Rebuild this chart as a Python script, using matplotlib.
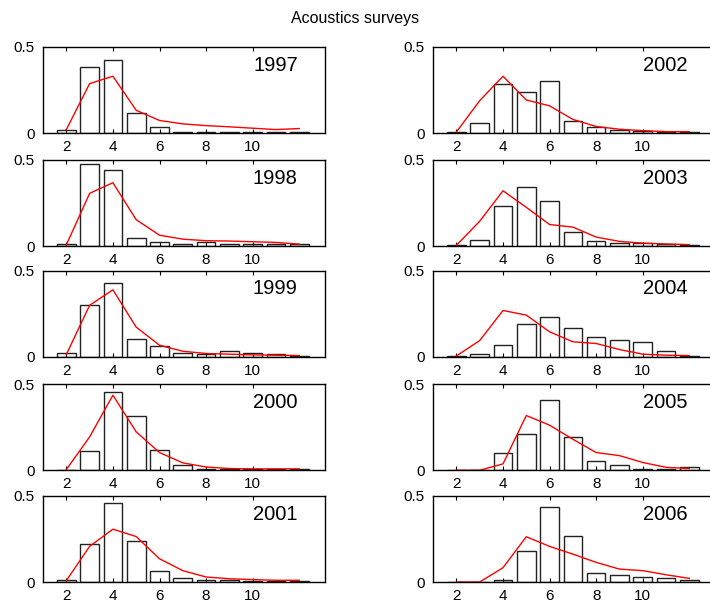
import numpy as np
import matplotlib
matplotlib.use("Agg")
import matplotlib.pyplot as plt

plt.rcParams['font.family'] = ['Liberation Sans', 'DejaVu Sans']

# --- Data ---
ages = [2, 3, 4, 5, 6, 7, 8, 9, 10, 11, 12]
years_left = ["1997", "1998", "1999", "2000", "2001"]
years_right = ["2002", "2003", "2004", "2005", "2006"]

bars_1997 = [0.018, 0.385, 0.423, 0.119, 0.036, 0.008, 0.008, 0.008, 0.008, 0.008, 0.008]
line_1997 = [0.020, 0.287, 0.330, 0.132, 0.073, 0.053, 0.043, 0.036, 0.028, 0.020, 0.026]
bars_1998 = [0.010, 0.475, 0.440, 0.048, 0.021, 0.011, 0.021, 0.011, 0.011, 0.011, 0.010]
line_1998 = [0.006, 0.306, 0.368, 0.153, 0.063, 0.040, 0.031, 0.029, 0.025, 0.021, 0.011]
bars_1999 = [0.023, 0.300, 0.432, 0.105, 0.062, 0.023, 0.018, 0.033, 0.023, 0.018, 0.008]
line_1999 = [0.014, 0.300, 0.390, 0.173, 0.068, 0.033, 0.020, 0.016, 0.012, 0.010, 0.008]
bars_2000 = [0.004, 0.110, 0.455, 0.318, 0.120, 0.029, 0.010, 0.008, 0.008, 0.008, 0.008]
line_2000 = [0.004, 0.194, 0.436, 0.223, 0.103, 0.043, 0.019, 0.010, 0.008, 0.008, 0.008]
bars_2001 = [0.010, 0.218, 0.461, 0.237, 0.064, 0.021, 0.010, 0.010, 0.008, 0.006, 0.008]
line_2001 = [0.008, 0.207, 0.307, 0.264, 0.135, 0.066, 0.029, 0.019, 0.014, 0.010, 0.010]

bars_2002 = [0.008, 0.061, 0.283, 0.237, 0.302, 0.071, 0.034, 0.020, 0.010, 0.006, 0.006]
line_2002 = [0.006, 0.188, 0.330, 0.192, 0.158, 0.079, 0.038, 0.022, 0.014, 0.008, 0.008]
bars_2003 = [0.008, 0.037, 0.233, 0.342, 0.260, 0.083, 0.027, 0.019, 0.017, 0.010, 0.008]
line_2003 = [0.004, 0.144, 0.321, 0.225, 0.125, 0.110, 0.052, 0.027, 0.017, 0.012, 0.008]
bars_2004 = [0.008, 0.018, 0.072, 0.189, 0.233, 0.169, 0.117, 0.097, 0.088, 0.035, 0.008]
line_2004 = [0.006, 0.095, 0.270, 0.243, 0.146, 0.088, 0.078, 0.043, 0.016, 0.010, 0.008]
bars_2005 = [0.000, 0.000, 0.100, 0.209, 0.411, 0.192, 0.054, 0.029, 0.010, 0.010, 0.021]
line_2005 = [0.000, 0.000, 0.037, 0.318, 0.262, 0.180, 0.103, 0.085, 0.045, 0.017, 0.010]
bars_2006 = [0.000, 0.000, 0.010, 0.181, 0.434, 0.270, 0.054, 0.039, 0.027, 0.021, 0.010]
line_2006 = [0.000, 0.000, 0.083, 0.263, 0.207, 0.162, 0.114, 0.075, 0.066, 0.042, 0.021]

bars_left = [bars_1997, bars_1998, bars_1999, bars_2000, bars_2001]
lines_left = [line_1997, line_1998, line_1999, line_2000, line_2001]
bars_right = [bars_2002, bars_2003, bars_2004, bars_2005, bars_2006]
lines_right = [line_2002, line_2003, line_2004, line_2005, line_2006]

fig = plt.figure(figsize=(7.10, 6.06), dpi=100)

row_bottoms = [0.7805, 0.594, 0.411, 0.224, 0.0396]
col_lefts = [0.0606, 0.610]
ax_w, ax_h = 0.397, 0.142


def draw_panel(ax, bars, line, year):
    ax.bar(ages, bars, width=0.8, facecolor='white', edgecolor='#222222', linewidth=1.0)
    ax.plot(ages, line, color='red', linewidth=1.0)
    ax.set_xlim(1, 13.1)
    ax.set_ylim(0, 0.5)
    ax.set_xticks([2, 4, 6, 8, 10])
    ax.set_yticks([0, 0.5])
    ax.set_yticklabels(["0", "0.5"])
    ax.tick_params(axis='x', direction='in', top=True, bottom=True, length=3,
                   labelsize=11, pad=5)
    ax.tick_params(axis='y', direction='in', length=0, labelsize=11, pad=6)
    for s in ax.spines.values():
        s.set_linewidth(1.0)
    ax.text(0.904, 0.90, year, transform=ax.transAxes, ha='right', va='top', fontsize=14.5)


for i in range(5):
    ax = fig.add_axes([col_lefts[0], row_bottoms[i], ax_w, ax_h])
    draw_panel(ax, bars_left[i], lines_left[i], years_left[i])
    ax = fig.add_axes([col_lefts[1], row_bottoms[i], ax_w, ax_h])
    draw_panel(ax, bars_right[i], lines_right[i], years_right[i])

fig.text(0.5, 0.970, "Acoustics surveys", ha='center', va='center', fontsize=11.5)

fig.savefig("out.png", dpi=100)
